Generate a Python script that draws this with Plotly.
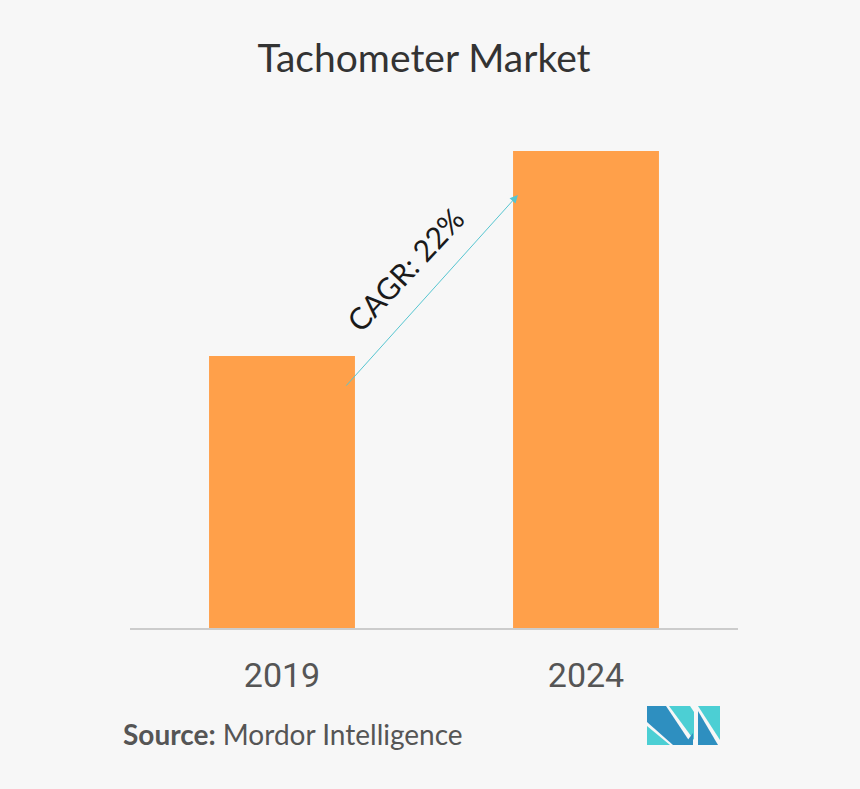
import plotly.graph_objects as go

years = ["2019", "2024"]
values = [57, 100]
title_text = "Tachometer Market"
cagr_text = "CAGR: 22%"
source_bold = "Source:"
source_rest = " Mordor Intelligence"

W, H = 860, 789
PL, PR, PT, PB = 130, 738, 100, 628  # plot area in pixels
bar_color = "#FFA04A"
bg = "#F7F7F7"

fig = go.Figure()
fig.add_trace(go.Bar(x=[0, 1], y=values, width=0.48, marker=dict(color=bar_color, line=dict(width=0)),
                     hoverinfo="skip"))

ymax = 100 * (PB - PT) / 477.0


def pxp(xp, yp):
    """pixel -> paper coords (relative to plot area)"""
    return (xp - PL) / (PR - PL), (PB - yp) / (PB - PT)


tx, _ = pxp(424, 0)
fig.update_layout(
    width=W, height=H,
    paper_bgcolor=bg, plot_bgcolor=bg,
    margin=dict(l=PL, r=W - PR, t=PT, b=H - PB, pad=0),
    showlegend=False,
    title=dict(text=title_text, x=tx, xanchor="center", y=1 - 58 / H, yanchor="middle",
               xref="paper", yref="container",
               font=dict(family="Lato", size=39, color="#333333")),
    xaxis=dict(range=[-0.5, 1.5], tickvals=[0, 1], ticktext=years, showgrid=False, zeroline=False,
               showline=True, linecolor="#CCCCCC", linewidth=1.5, ticks="",
               tickfont=dict(family="Roboto", size=34, color="#555555"), ticklabelstandoff=16),
    yaxis=dict(range=[0, ymax], visible=False),
)

# CAGR arrow
fig.add_annotation(x=0.776, y=90.8, ax=0.207, ay=50.5,
                   xref="x", yref="y", axref="x", ayref="y",
                   text="", showarrow=True, arrowhead=2, arrowsize=1.6, arrowwidth=1,
                   arrowcolor="#56C5D0")
fig.add_annotation(x=0.405, y=75.2, xref="x", yref="y", text=cagr_text,
                   showarrow=False, textangle=-47,
                   font=dict(family="Lato", size=30, color="#1A1A1A"))

# source
sx, sy = pxp(121, 734)
fig.add_annotation(x=sx, y=sy, xref="paper", yref="paper", xanchor="left", yanchor="middle",
                   text=f"<b>{source_bold}</b>{source_rest}", showarrow=False,
                   font=dict(family="Lato", size=28, color="#555555"))


def path(points):
    s = ""
    for i, (a, b) in enumerate(points):
        X, Y = pxp(a, b)
        s += ("M" if i == 0 else "L") + f"{X:.5f},{Y:.5f} "
    return s + "Z"


dark = "#2E8FC0"
light = "#4CCFD4"
logo = [
    ([(647, 706), (666, 706), (692, 745), (673, 745), (647, 722)], dark),
    ([(647, 726), (670, 745), (647, 745)], light),
    ([(669, 706), (690, 706), (694, 712), (694, 740)], light),
    ([(684, 745), (693, 745), (693, 733)], dark),
    ([(698, 706), (720, 706), (720, 740)], light),
    ([(698, 711), (718, 745), (698, 745)], dark),
]
for pts, col in logo:
    fig.add_shape(type="path", xref="paper", yref="paper", path=path(pts),
                  fillcolor=col, line=dict(width=0), layer="above")

fig.write_html("out.html", config={"displayModeBar": False},
               post_script="document.body.style.margin='0';")
